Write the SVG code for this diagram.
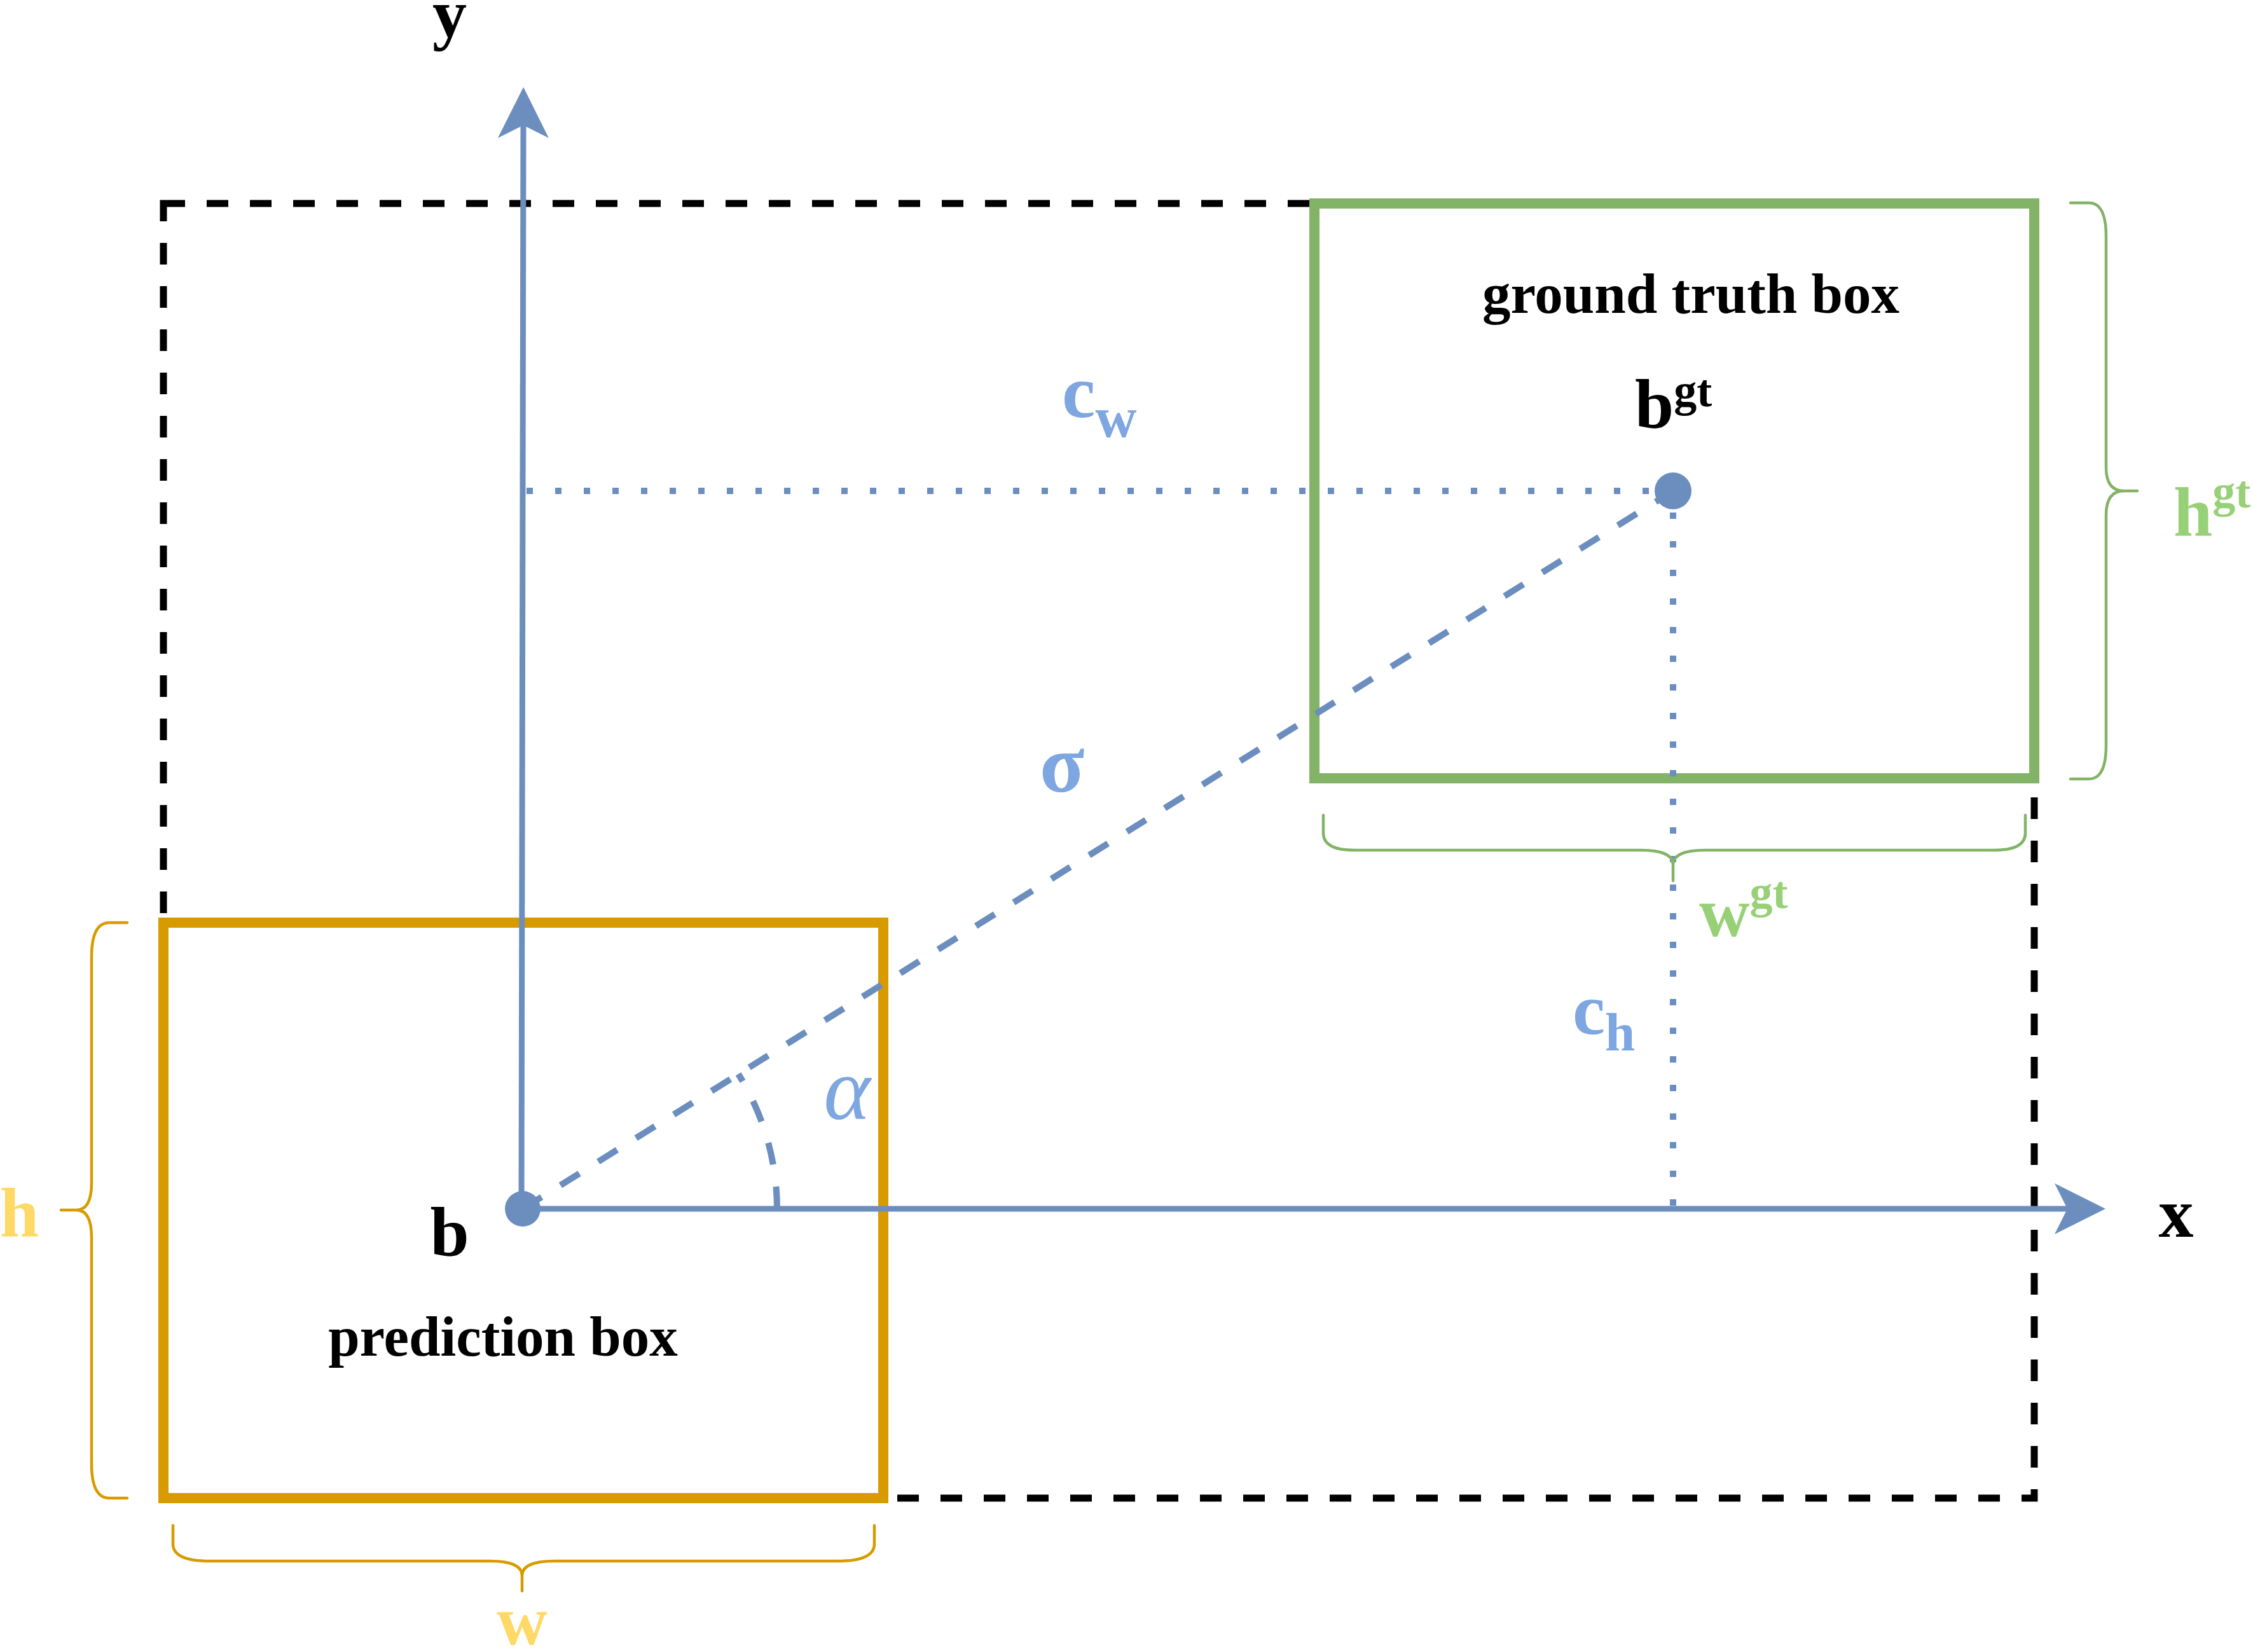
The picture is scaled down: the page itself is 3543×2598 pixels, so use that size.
<svg xmlns="http://www.w3.org/2000/svg" width="3543" height="2598" viewBox="0 0 3543 2598">
<style>
.t{font-family:"Liberation Serif","Times New Roman",serif;font-weight:bold}
.blk{fill:#000}
.lb{fill:#7EA6E0}
.lg{fill:#97D077}
.ly{fill:#FFD966}
.axis{stroke:#6C8EBF;stroke-width:9;fill:none}
.dash{stroke:#6C8EBF;stroke-width:10;fill:none;stroke-dasharray:35 35}
.dot{stroke:#6C8EBF;stroke-width:10;fill:none;stroke-dasharray:10 35}
.braceO{stroke:#D79B00;stroke-width:4.5;fill:none;stroke-linecap:round}
.braceG{stroke:#82B366;stroke-width:4.5;fill:none;stroke-linecap:round}
</style>
<defs>
<marker id="arr" markerUnits="userSpaceOnUse" viewBox="0 0 80 80" refX="20" refY="40" markerWidth="80" markerHeight="80" orient="auto">
<path d="M0,0 L80,40 L0,80 L20,40 Z" fill="#6C8EBF"/>
</marker>
</defs>
<rect width="3543" height="2598" fill="#fff"/>
<g id="frame">
<rect x="257" y="320" width="2942" height="2036" fill="none" stroke="#000" stroke-width="11" stroke-dasharray="34 34"/>
</g>
<g id="gt-box">
<rect x="2067" y="320" width="1132" height="904" fill="none" stroke="#82B366" stroke-width="16"/>
<text class="t blk" x="2659" y="492" font-size="89" text-anchor="middle">ground truth box</text>
<text class="t blk" x="2571" y="673" font-size="110">b<tspan font-size="72" dy="-34">gt</tspan></text>
</g>
<g id="pred-box">
<rect x="257" y="1451" width="1132" height="905" fill="none" stroke="#D79B00" stroke-width="16"/>
<text class="t blk" x="791" y="2132" font-size="89" text-anchor="middle">prediction box</text>
<text class="t blk" x="707" y="1975" font-size="110" text-anchor="middle">b</text>
</g>
<g id="connectors">
<line class="axis" x1="822" y1="1901" x2="3251" y2="1901" marker-end="url(#arr)"/>
<line class="axis" x1="820" y1="1901" x2="823" y2="197" marker-end="url(#arr)"/>
<line class="dot" x1="828" y1="772" x2="2600" y2="772"/>
<line class="dot" x1="2631" y1="806" x2="2631" y2="1896"/>
<line class="dash" x1="822" y1="1901" x2="2631" y2="772"/>
<path class="dash" d="M 1222 1901 A 400 400 0 0 0 1161 1689"/>
</g>
<g id="points">
<circle cx="822" cy="1901" r="28" fill="#6C8EBF"/>
<circle cx="2631" cy="772" r="29" fill="#6C8EBF"/>
</g>
<g id="braces">
<path class="braceG" d="M 3256 319 L 3285 319 Q 3312 319 3312 372 L 3312 735 Q 3312 772 3340 772 L 3361 772 M 3340 772 Q 3312 772 3312 810 L 3312 1172 Q 3312 1225 3285 1225 L 3256 1225"/>
<path class="braceO" d="M 200 1451 L 172 1451 Q 144 1451 144 1505 L 144 1860 Q 144 1903 120 1903 L 96 1903 M 120 1903 Q 144 1903 144 1946 L 144 2302 Q 144 2356 172 2356 L 200 2356"/>
<path class="braceO" d="M 272 2399 L 272 2428 Q 272 2455 330 2455 L 770 2455 Q 821 2455 821 2478 L 821 2502 M 821 2478 Q 821 2455 872 2455 L 1317 2455 Q 1375 2455 1375 2428 L 1375 2399"/>
<path class="braceG" d="M 2081 1282 L 2081 1310 Q 2081 1337 2130 1337 L 2580 1337 Q 2631 1337 2631 1360 L 2631 1385 M 2631 1360 Q 2631 1337 2682 1337 L 3136 1337 Q 3185 1337 3185 1310 L 3185 1282"/>
</g>
<g id="labels">
<text class="t blk" x="707" y="58" font-size="108" text-anchor="middle">y</text>
<text class="t blk" x="3422" y="1945" font-size="110" text-anchor="middle">x</text>
<text class="t ly" x="0" y="1945" font-size="110">h</text>
<text class="t ly" x="821" y="2586" font-size="110" text-anchor="middle">w</text>
<text class="t lg" x="3418" y="843" font-size="110">h<tspan font-size="72" dy="-45">gt</tspan></text>
<text class="t lg" x="2672" y="1472" font-size="110">w<tspan font-size="72" dy="-44">gt</tspan></text>
<text class="t lb" x="1670" y="656" font-size="118">c<tspan font-size="90" dy="31">w</tspan></text>
<text class="t lb" x="2473" y="1626" font-size="115">c<tspan font-size="85" dy="26">h</tspan></text>
<text class="t lb" x="1670" y="1245" font-size="130" text-anchor="middle">σ</text>
<text x="1332" y="1760" font-size="140" text-anchor="middle" font-family="Liberation Serif, serif" font-style="italic" fill="#7EA6E0">α</text>
</g>
</svg>
